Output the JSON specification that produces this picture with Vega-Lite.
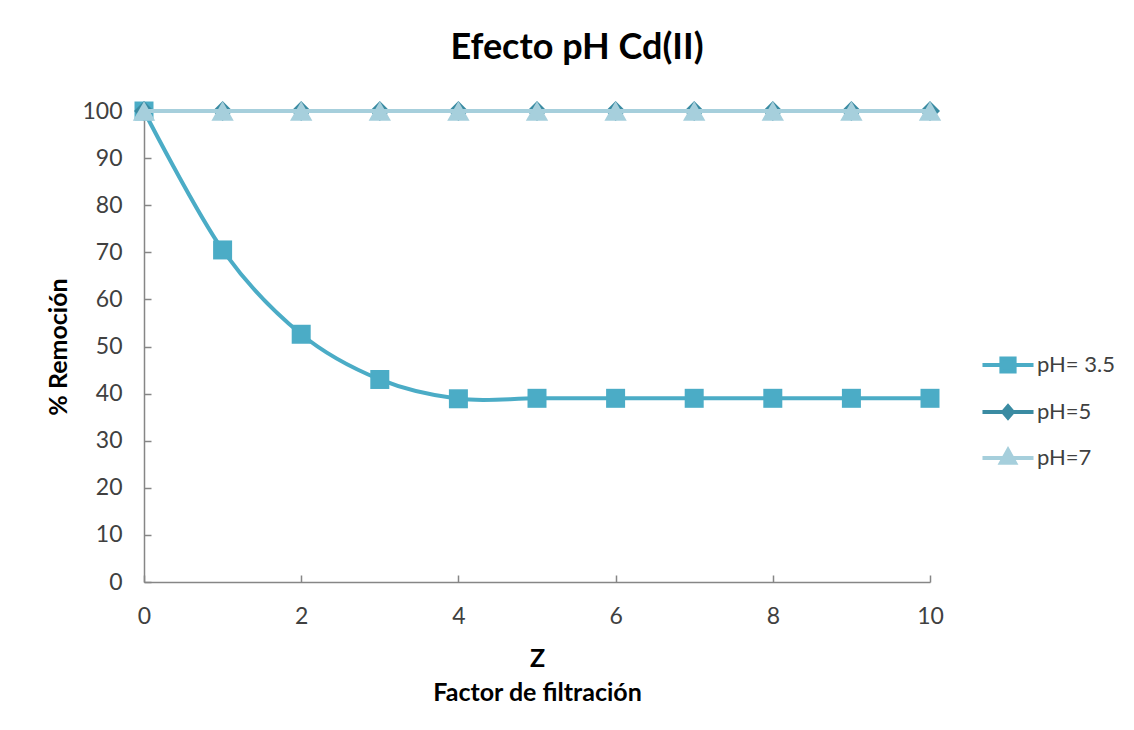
{
  "$schema": "https://vega.github.io/schema/vega-lite/v6.json",
  "width": 786,
  "height": 471,
  "autosize": {"type": "none"},
  "padding": {"left": 144, "top": 111, "right": 204, "bottom": 148},
  "background": "white",
  "title": {
    "text": "Efecto pH Cd(II)",
    "font": "Lato",
    "fontSize": 36,
    "fontWeight": "bold",
    "color": "#000000",
    "anchor": "middle",
    "frame": "group",
    "dx": 40,
    "baseline": "alphabetic",
    "offset": 5
  },
  "data": {
    "values": [
      {"Z": 0, "serie": "pH= 3.5", "rem": 100},
      {"Z": 1, "serie": "pH= 3.5", "rem": 70.5},
      {"Z": 2, "serie": "pH= 3.5", "rem": 52.6},
      {"Z": 3, "serie": "pH= 3.5", "rem": 43},
      {"Z": 4, "serie": "pH= 3.5", "rem": 38.9},
      {"Z": 5, "serie": "pH= 3.5", "rem": 39},
      {"Z": 6, "serie": "pH= 3.5", "rem": 39},
      {"Z": 7, "serie": "pH= 3.5", "rem": 39},
      {"Z": 8, "serie": "pH= 3.5", "rem": 39},
      {"Z": 9, "serie": "pH= 3.5", "rem": 39},
      {"Z": 10, "serie": "pH= 3.5", "rem": 39},
      {"Z": 0, "serie": "pH=5", "rem": 100},
      {"Z": 1, "serie": "pH=5", "rem": 100},
      {"Z": 2, "serie": "pH=5", "rem": 100},
      {"Z": 3, "serie": "pH=5", "rem": 100},
      {"Z": 4, "serie": "pH=5", "rem": 100},
      {"Z": 5, "serie": "pH=5", "rem": 100},
      {"Z": 6, "serie": "pH=5", "rem": 100},
      {"Z": 7, "serie": "pH=5", "rem": 100},
      {"Z": 8, "serie": "pH=5", "rem": 100},
      {"Z": 9, "serie": "pH=5", "rem": 100},
      {"Z": 10, "serie": "pH=5", "rem": 100},
      {"Z": 0, "serie": "pH=7", "rem": 100},
      {"Z": 1, "serie": "pH=7", "rem": 100},
      {"Z": 2, "serie": "pH=7", "rem": 100},
      {"Z": 3, "serie": "pH=7", "rem": 100},
      {"Z": 4, "serie": "pH=7", "rem": 100},
      {"Z": 5, "serie": "pH=7", "rem": 100},
      {"Z": 6, "serie": "pH=7", "rem": 100},
      {"Z": 7, "serie": "pH=7", "rem": 100},
      {"Z": 8, "serie": "pH=7", "rem": 100},
      {"Z": 9, "serie": "pH=7", "rem": 100},
      {"Z": 10, "serie": "pH=7", "rem": 100}
    ]
  },
  "encoding": {
    "x": {
      "field": "Z",
      "type": "quantitative",
      "scale": {"domain": [0, 10], "nice": false, "zero": false},
      "axis": {
        "values": [0, 2, 4, 6, 8, 10],
        "labelFlush": false,
        "title": ["Z", "Factor de filtración"],
        "titleLineHeight": 34,
        "titlePadding": 18,
        "labelPadding": 30
      }
    },
    "y": {
      "field": "rem",
      "type": "quantitative",
      "scale": {"domain": [0, 100], "nice": false},
      "axis": {
        "values": [0, 10, 20, 30, 40, 50, 60, 70, 80, 90, 100],
        "title": "% Remoción",
        "titlePadding": 10,
        "labelPadding": 29
      }
    },
    "color": {
      "field": "serie",
      "type": "nominal",
      "scale": {
        "domain": ["pH= 3.5", "pH=5", "pH=7"],
        "range": ["#4BACC6", "#3A8BA2", "#A6CFDC"]
      },
      "legend": {
        "title": null,
        "orient": "none",
        "legendX": 840,
        "legendY": 230,
        "padding": 0,
        "symbolSize": 1936,
        "symbolStrokeWidth": 4,
        "labelFont": "Lato",
        "labelFontSize": 22,
        "labelColor": "#404040",
        "labelOffset": 5,
        "rowPadding": 8,
        "encode": {
          "symbols": {
            "update": {
              "shape": {"signal": "datum.value === 'pH= 3.5' ? 'M-1.16,0H1.16M-0.3,-0.3H0.3V0.3H-0.3Z' : datum.value === 'pH=5' ? 'M-1.16,0H1.16M0,-0.26L0.22,0L0,0.26L-0.22,0Z' : 'M-1.16,0H1.16M0,-0.36L0.32,0.22L-0.32,0.22Z'"},
              "fill": {"scale": "color", "field": "value"},
              "stroke": {"scale": "color", "field": "value"},
              "strokeWidth": {"value": 4},
              "opacity": {"value": 1}
            }
          }
        }
      }
    }
  },
  "layer": [
    {
      "transform": [{"filter": "datum.serie === 'pH= 3.5'"}],
      "layer": [
        {"mark": {"type": "line", "interpolate": "cardinal", "strokeWidth": 4}},
        {"mark": {"type": "point", "shape": "square", "filled": true, "size": 361, "opacity": 1}}
      ]
    },
    {
      "transform": [{"filter": "datum.serie === 'pH=5'"}],
      "layer": [
        {"mark": {"type": "line", "strokeWidth": 4}},
        {"mark": {"type": "point", "shape": "diamond", "filled": true, "size": 400, "opacity": 1}}
      ]
    },
    {
      "transform": [{"filter": "datum.serie === 'pH=7'"}],
      "layer": [
        {"mark": {"type": "line", "strokeWidth": 4}},
        {"mark": {"type": "point", "shape": "triangle-up", "filled": true, "size": 500, "opacity": 1}}
      ]
    }
  ],
  "config": {
    "view": {"stroke": null},
    "axis": {
      "grid": false,
      "domainColor": "#868686",
      "domainWidth": 1.5,
      "tickColor": "#868686",
      "tickWidth": 1.5,
      "tickSize": -7,
      "labelFont": "Lato",
      "labelFontSize": 23,
      "labelColor": "#404040",
      "titleFont": "Lato",
      "titleFontSize": 25,
      "titleFontWeight": "bold",
      "titleColor": "#000000"
    }
  }
}
